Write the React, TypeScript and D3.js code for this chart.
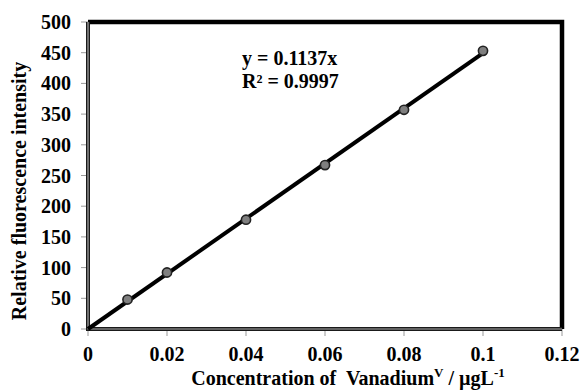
import React from "react";
import * as d3 from "d3";

const concentrations = [0.01, 0.02, 0.04, 0.06, 0.08, 0.1];
const intensities = [48, 92, 178, 267, 357, 453];
const xTicks = [0, 0.02, 0.04, 0.06, 0.08, 0.1, 0.12];
const yTicks = [0, 50, 100, 150, 200, 250, 300, 350, 400, 450, 500];
const equationText = "y = 0.1137x";
const r2Text = "R² = 0.9997";

const W = 580;
const H = 391;
const m = { left: 88, right: 18, top: 22, bottom: 62 };
const FONT = "'Liberation Serif', 'Times New Roman', serif";

export default function App() {
  const x = d3.scaleLinear().domain([0, 0.12]).range([m.left, W - m.right]);
  const y = d3.scaleLinear().domain([0, 500]).range([H - m.bottom, m.top]);

  // least-squares slope of a line through the origin
  const sxy = d3.sum(concentrations, (c, i) => c * intensities[i]);
  const sxx = d3.sum(concentrations, (c) => c * c);
  const k = sxy / sxx;
  const xMax = d3.max(concentrations) as number;
  const fitLine = d3.line<number>().x((d) => x(d)).y((d) => y(k * d))([0, xMax]) as string;

  const x0 = x(0);
  const x1 = x(0.12);
  const y0 = y(0);
  const y1 = y(500);
  const fmtX = (v: number) => (v === 0 ? "0" : String(+v.toFixed(2)));

  return (
    <svg width={W} height={H} style={{ position: "absolute", left: 0, top: 0, background: "#fff" }}>
      {/* top and right frame */}
      <path d={`M${x0},${y1}H${x1}V${y0}`} fill="none" stroke="#000" strokeWidth={4.5} />
      {/* ticks */}
      {yTicks.map((t) => (
        <line key={"yt" + t} x1={x0 - 7} x2={x0} y1={y(t)} y2={y(t)} stroke="#999" strokeWidth={1} />
      ))}
      {xTicks.map((t) => (
        <line key={"xt" + t} x1={x(t)} x2={x(t)} y1={y0} y2={y0 + 7} stroke="#999" strokeWidth={1} />
      ))}
      {/* left and bottom axes, double-line style */}
      <path d={`M${x0},${y1}V${y0}H${x1}`} fill="none" stroke="#1a1a1a" strokeWidth={4} />
      <path d={`M${x0},${y1}V${y0}H${x1}`} fill="none" stroke="#aaa" strokeWidth={1.2} />
      {/* fitted line */}
      <path d={fitLine} fill="none" stroke="#000" strokeWidth={4} />
      {/* data points */}
      {concentrations.map((c, i) => (
        <circle key={i} cx={x(c)} cy={y(intensities[i])} r={4.6} fill="#7f7f7f" stroke="#222" strokeWidth={1.6} />
      ))}
      {/* tick labels */}
      <g fontFamily={FONT} fontWeight="bold" fontSize={20} fill="#000">
        {yTicks.map((t) => (
          <text key={"yl" + t} x={x0 - 17} y={y(t)} dy="0.35em" textAnchor="end">
            {t}
          </text>
        ))}
        {xTicks.map((t) => (
          <text key={"xl" + t} x={x(t)} y={y0 + 32} textAnchor="middle">
            {fmtX(t)}
          </text>
        ))}
        <text x={348} y={y0 + 56} textAnchor="middle" style={{ whiteSpace: "pre" }}>
          <tspan>Concentration of  Vanadium</tspan>
          <tspan fontSize={13} dy={-8}>V</tspan>
          <tspan dy={8}> / µgL</tspan>
          <tspan fontSize={13} dy={-8}>-1</tspan>
        </text>
        <text transform={`translate(26,191) rotate(-90)`} textAnchor="middle">
          Relative fluorescence intensity
        </text>
        <text x={242} y={65}>{equationText}</text>
        <text x={242} y={88}>{r2Text}</text>
      </g>
    </svg>
  );
}
